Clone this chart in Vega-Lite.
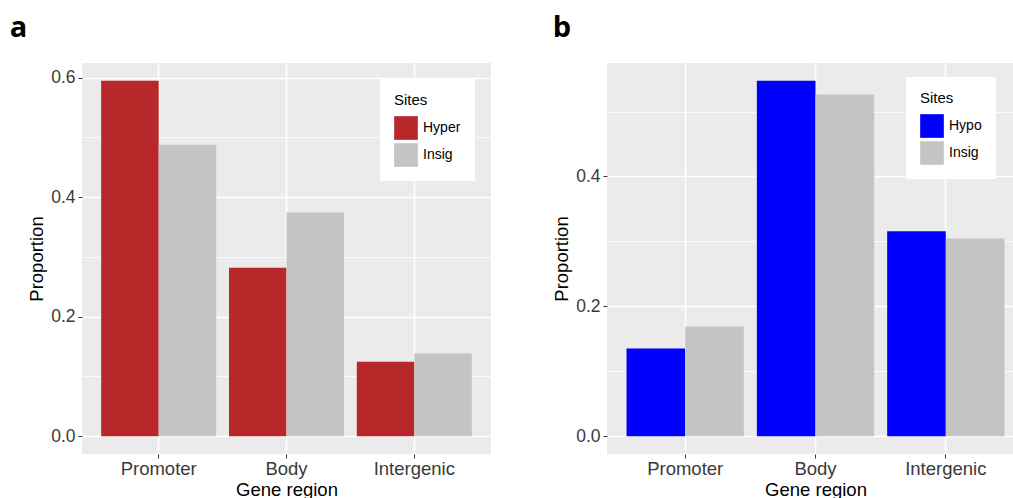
{
  "$schema": "https://vega.github.io/schema/vega-lite/v6.json",
  "padding": {"left": 9, "top": 14, "right": 0, "bottom": 0},
  "background": "white",
  "datasets": {
    "hyper": [
      {"region": "Promoter", "Sites": "Hyper", "Proportion": 0.5946},
      {"region": "Promoter", "Sites": "Insig", "Proportion": 0.4877},
      {"region": "Body", "Sites": "Hyper", "Proportion": 0.2818},
      {"region": "Body", "Sites": "Insig", "Proportion": 0.3741},
      {"region": "Intergenic", "Sites": "Hyper", "Proportion": 0.1247},
      {"region": "Intergenic", "Sites": "Insig", "Proportion": 0.1386}
    ],
    "hypo": [
      {"region": "Promoter", "Sites": "Hypo", "Proportion": 0.135},
      {"region": "Promoter", "Sites": "Insig", "Proportion": 0.1688},
      {"region": "Body", "Sites": "Hypo", "Proportion": 0.5473},
      {"region": "Body", "Sites": "Insig", "Proportion": 0.5263},
      {"region": "Intergenic", "Sites": "Hypo", "Proportion": 0.3156},
      {"region": "Intergenic", "Sites": "Insig", "Proportion": 0.3044}
    ]
  },
  "config": {
    "font": "Liberation Sans",
    "view": {"fill": "#EBEBEB", "stroke": null},
    "axis": {
      "domain": false,
      "gridColor": "white",
      "gridOpacity": 1,
      "tickColor": "#333333",
      "tickSize": 4,
      "tickWidth": 1,
      "labelColor": "#3a3a3a",
      "labelFont": "Liberation Sans",
      "titleFont": "Liberation Sans",
      "titleColor": "black",
      "titleFontWeight": "normal",
      "titleFontSize": 18.5
    },
    "legend": {
      "titleFont": "Liberation Sans",
      "labelFont": "Liberation Sans",
      "titleFontWeight": "normal",
      "titleFontSize": 15,
      "labelFontSize": 14,
      "titleColor": "black",
      "labelColor": "black"
    },
    "title": {
      "anchor": "start",
      "frame": "bounds",
      "font": "Open Sans",
      "fontSize": 29,
      "fontWeight": "bold",
      "color": "black",
      "baseline": "alphabetic",
      "offset": 20
    }
  },
  "hconcat": [
    {
      "title": {"text": "a", "dx": -18},
      "width": 409,
      "height": 391,
      "data": {"name": "hyper"},
      "mark": {"type": "bar"},
      "encoding": {
        "x": {
          "field": "region",
          "type": "nominal",
          "sort": ["Promoter", "Body", "Intergenic"],
          "scale": {"paddingInner": 0.1, "paddingOuter": 0.15},
          "axis": {
            "title": "Gene region",
            "labelAngle": 0,
            "labelFontSize": 18.5,
            "labelPadding": 1,
            "titlePadding": 3,
            "grid": true,
            "gridWidth": 1.6,
            "bandPosition": 0.5
          }
        },
        "xOffset": {
          "field": "Sites",
          "sort": ["Hyper", "Insig"],
          "scale": {"paddingInner": 0, "paddingOuter": 0}
        },
        "y": {
          "field": "Proportion",
          "type": "quantitative",
          "scale": {"domain": [-0.0297, 0.6243], "nice": false, "zero": false},
          "axis": {
            "title": "Proportion",
            "values": [0, 0.1, 0.2, 0.3, 0.4, 0.5, 0.6],
            "format": ".1f",
            "labelExpr": "round(datum.value*10) % 2 == 1 ? '' : datum.label",
            "labelFontSize": 17.5,
            "labelPadding": 3,
            "titlePadding": 4,
            "gridWidth": {"condition": {"test": "round(datum.value*10) % 2 == 1", "value": 0.8}, "value": 1.6},
            "tickOpacity": {"condition": {"test": "round(datum.value*10) % 2 == 1", "value": 0}, "value": 1}
          }
        },
        "color": {
          "field": "Sites",
          "type": "nominal",
          "scale": {"domain": ["Hyper", "Insig"], "range": ["#B8272A", "#C4C4C4"]},
          "legend": {
            "title": "Sites",
            "orient": "none",
            "legendX": 298,
            "legendY": 16,
            "fillColor": "white",
            "padding": 14,
            "symbolType": "square",
            "symbolSize": 560,
            "symbolStrokeWidth": 0,
            "rowPadding": 3,
            "labelOffset": 5,
            "titlePadding": 8
          }
        }
      }
    },
    {
      "title": {"text": "b"},
      "width": 417,
      "height": 391,
      "data": {"name": "hypo"},
      "mark": {"type": "bar"},
      "encoding": {
        "x": {
          "field": "region",
          "type": "nominal",
          "sort": ["Promoter", "Body", "Intergenic"],
          "scale": {"paddingInner": 0.1, "paddingOuter": 0.15},
          "axis": {
            "title": "Gene region",
            "labelAngle": 0,
            "labelFontSize": 18.5,
            "labelPadding": 1,
            "titlePadding": 3,
            "grid": true,
            "gridWidth": 1.6,
            "bandPosition": 0.5
          }
        },
        "xOffset": {
          "field": "Sites",
          "sort": ["Hypo", "Insig"],
          "scale": {"paddingInner": 0, "paddingOuter": 0}
        },
        "y": {
          "field": "Proportion",
          "type": "quantitative",
          "scale": {"domain": [-0.0274, 0.5747], "nice": false, "zero": false},
          "axis": {
            "title": "Proportion",
            "values": [0, 0.1, 0.2, 0.3, 0.4, 0.5],
            "format": ".1f",
            "labelExpr": "round(datum.value*10) % 2 == 1 ? '' : datum.label",
            "labelFontSize": 17.5,
            "labelPadding": 3,
            "titlePadding": 4,
            "gridWidth": {"condition": {"test": "round(datum.value*10) % 2 == 1", "value": 0.8}, "value": 1.6},
            "tickOpacity": {"condition": {"test": "round(datum.value*10) % 2 == 1", "value": 0}, "value": 1}
          }
        },
        "color": {
          "field": "Sites",
          "type": "nominal",
          "scale": {"domain": ["Hypo", "Insig"], "range": ["#0000FF", "#C4C4C4"]},
          "legend": {
            "title": "Sites",
            "orient": "none",
            "legendX": 299,
            "legendY": 14,
            "fillColor": "white",
            "padding": 14,
            "symbolType": "square",
            "symbolSize": 560,
            "symbolStrokeWidth": 0,
            "rowPadding": 3,
            "labelOffset": 5,
            "titlePadding": 8
          }
        }
      }
    }
  ],
  "spacing": 61,
  "resolve": {"scale": {"color": "independent", "y": "independent", "x": "independent", "xOffset": "independent"}, "legend": {"color": "independent"}}
}
